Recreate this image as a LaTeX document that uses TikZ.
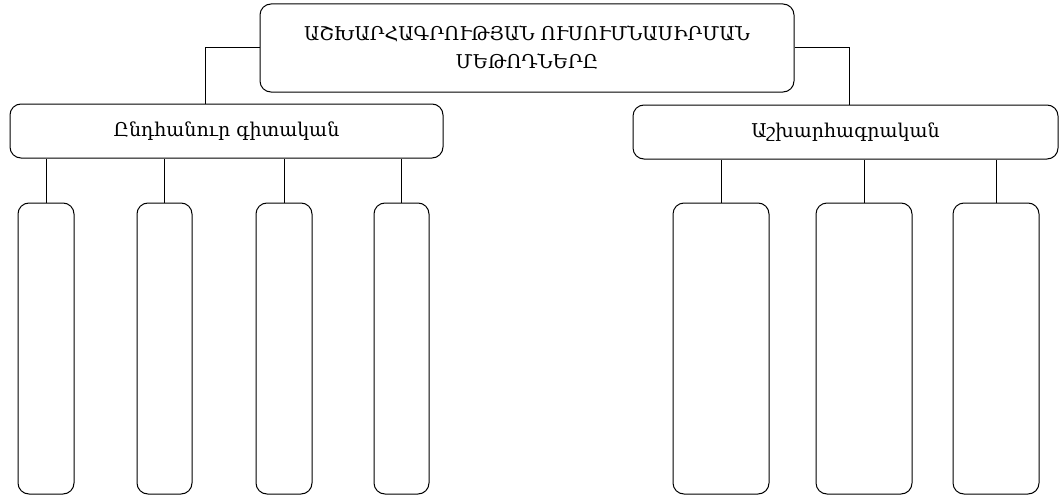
\documentclass[tikz,border=0pt]{standalone}
\usepackage{fontspec}
\setmainfont{DejaVu Serif}

\tikzset{
  box/.style={draw, rounded corners=11pt, align=center, inner sep=0pt},
  leaf/.style={box, minimum height=291pt},
}

\begin{document}
\begin{tikzpicture}[x=1pt, y=-1pt, line width=1pt]
  \useasboundingbox (0,0) rectangle (1060,495);

  % Root
  \node[box, minimum width=534pt, minimum height=88pt, font=\fontsize{19}{28}\selectfont]
    (root) at (527,48) {ԱՇԽԱՐՀԱԳՐՈՒԹՅԱՆ ՈՒՍՈՒՄՆԱՍԻՐՄԱՆ\\ՄԵԹՈԴՆԵՐԸ};

  % Groups
  \node[box, minimum width=433pt, minimum height=54pt, font=\fontsize{19}{22}\selectfont]
    (gen) at (226.5,131) {Ընդհանուր գիտական};
  \node[box, minimum width=425pt, minimum height=54pt, font=\fontsize{19}{22}\selectfont]
    (geo) at (845.5,132) {Աշխարհագրական};

  % Empty boxes
  \node[leaf, minimum width=56pt] (g1) at (46,348.5) {};
  \node[leaf, minimum width=55pt] (g2) at (164.5,348.5) {};
  \node[leaf, minimum width=56pt] (g3) at (284,348.5) {};
  \node[leaf, minimum width=55pt] (g4) at (401.5,348.5) {};
  \node[leaf, minimum width=96pt] (a1) at (721,348.5) {};
  \node[leaf, minimum width=96pt] (a2) at (864,348.5) {};
  \node[leaf, minimum width=86pt] (a3) at (996,348.5) {};

  % Connectors
  \coordinate (lj) at (205,0);
  \coordinate (rj) at (849,0);
  \draw (root.west) -| (gen.north -| lj);
  \draw (root.east) -| (geo.north -| rj);
  \foreach \c in {g1,g2,g3,g4}
    \draw (\c.north) -- (\c.north |- gen.south);
  \foreach \c in {a1,a2,a3}
    \draw (\c.north) -- (\c.north |- geo.south);
\end{tikzpicture}
\end{document}
